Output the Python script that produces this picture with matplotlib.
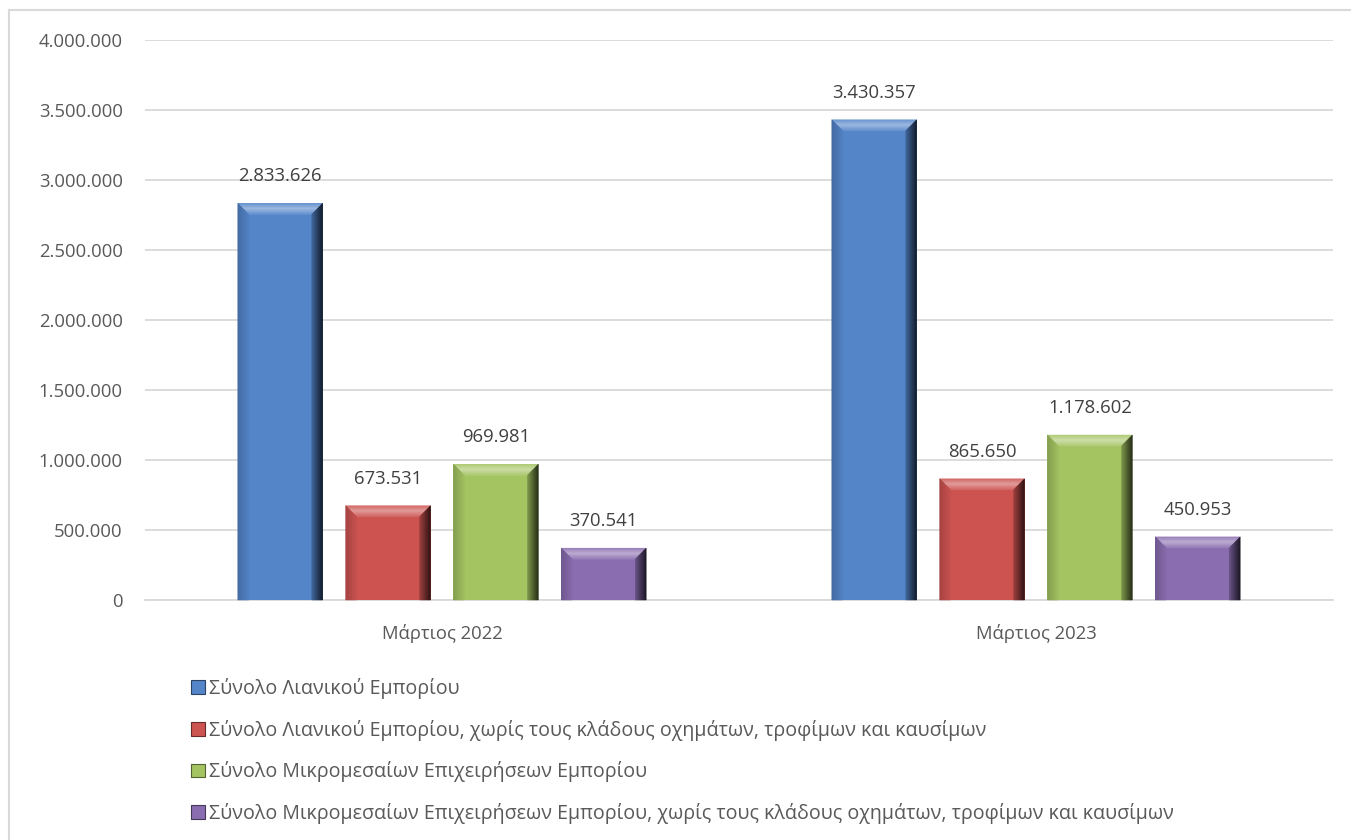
import matplotlib.pyplot as plt
import matplotlib.patches as mpatches
import matplotlib.colors as mcolors
from matplotlib.lines import Line2D
from matplotlib.transforms import IdentityTransform
import numpy as np

plt.rcParams['font.family'] = ['Open Sans', 'DejaVu Sans']

categories = ["Μάρτιος 2022", "Μάρτιος 2023"]
series_names = [
    "Σύνολο Λιανικού Εμπορίου",
    "Σύνολο Λιανικού Εμπορίου, χωρίς τους κλάδους οχημάτων, τροφίμων και καυσίμων",
    "Σύνολο Μικρομεσαίων Επιχειρήσεων Εμπορίου",
    "Σύνολο Μικρομεσαίων Επιχειρήσεων Εμπορίου, χωρίς τους κλάδους οχημάτων, τροφίμων και καυσίμων",
]
values_total = [2833626, 3430357]
values_total_excl = [673531, 865650]
values_sme = [969981, 1178602]
values_sme_excl = [370541, 450953]
series_values = [values_total, values_total_excl, values_sme, values_sme_excl]
colors = ["#5485c9", "#cc5350", "#a4c462", "#8a6db0"]

y_ticks = np.arange(0, 4000001, 500000)


def fmt(v):
    return f"{v:,}".replace(",", ".")


W, H = 1351, 840
fig = plt.figure(figsize=(W / 100, H / 100), dpi=100)
ax = fig.add_axes([145 / W, 1 - 600 / H, 1188 / W, 560 / H])

# chart frame (only left and top edges are visible in the crop)
fig.add_artist(Line2D([9 / W, 9 / W], [0, 1 - 10 / H], transform=fig.transFigure,
                      color="#d9d9d9", linewidth=1.5))
fig.add_artist(Line2D([9 / W, 1], [1 - 10 / H, 1 - 10 / H], transform=fig.transFigure,
                      color="#d9d9d9", linewidth=1.5))

x = np.arange(len(categories))
width = 0.143
step = 0.1815
offsets = (np.arange(len(series_names)) - 1.5) * step

bar_groups = []
for i, (name, vals) in enumerate(zip(series_names, series_values)):
    bars = ax.bar(x + offsets[i], vals, width, color=colors[i], label=name, zorder=3)
    bar_groups.append((bars, colors[i]))
    for b, v in zip(bars, vals):
        ax.annotate(fmt(v), (b.get_x() + b.get_width() / 2, v), xytext=(0, 13),
                    textcoords="offset points", ha="center", va="bottom",
                    fontsize=13.3, color="#404040")

ax.set_xlim(-0.5, 1.5)
ax.set_ylim(0, 4000000)
ax.set_yticks(y_ticks)
ax.set_yticklabels([fmt(int(t)) for t in y_ticks])
ax.set_xticks(x)
ax.set_xticklabels(categories)
ax.tick_params(axis="both", length=0, labelsize=13.3, labelcolor="#595959")
ax.tick_params(axis="x", pad=17)
ax.tick_params(axis="y", pad=16)
ax.grid(axis="y", color="#d9d9d9", linewidth=1.3, zorder=0)
for s in ["top", "right", "left"]:
    ax.spines[s].set_visible(False)
ax.spines["bottom"].set_color("#d9d9d9")
ax.spines["bottom"].set_linewidth(1.3)

# bevel effect drawn on top of each bar, in pixels
fig.canvas.draw()
bev = 11
for bars, col in bar_groups:
    base = np.array(mcolors.to_rgb(col))
    for b in bars:
        (x0, y0), (x1, y1) = ax.transData.transform(
            [(b.get_x(), 0), (b.get_x() + b.get_width(), b.get_height())])
        # top bevel: light gradient
        for k in range(bev):
            t = k / bev
            c = np.clip(base + (1 - base) * (0.12 + 0.33 * (1 - abs(t - 0.45) * 2)), 0, 1)
            poly = [(x0 + k, y1 - k), (x1 - k, y1 - k), (x1 - k - 1, y1 - k - 1), (x0 + k + 1, y1 - k - 1)]
            fig.add_artist(mpatches.Polygon(poly, closed=True, facecolor=c, edgecolor=c,
                                            linewidth=0.3, transform=IdentityTransform(), zorder=4))
        # right bevel: dark gradient towards the edge
        for k in range(bev):
            c = base * (0.75 - 0.6 * k / bev)
            xa = x1 - bev + k
            poly = [(xa, y1 - (bev - k)), (xa + 1, y1 - (bev - k - 1)), (xa + 1, y0), (xa, y0)]
            fig.add_artist(mpatches.Polygon(poly, closed=True, facecolor=c, edgecolor=c,
                                            linewidth=0.3, transform=IdentityTransform(), zorder=4))
        # left bevel: slightly darker
        for k in range(bev):
            c = base * (0.8 + 0.18 * k / bev)
            xa = x0 + k
            poly = [(xa, y1 - k), (xa + 1, y1 - k - 1), (xa + 1, y0), (xa, y0)]
            fig.add_artist(mpatches.Polygon(poly, closed=True, facecolor=c, edgecolor=c,
                                            linewidth=0.3, transform=IdentityTransform(), zorder=4))

handles = [mpatches.Patch(facecolor=c, edgecolor=np.array(mcolors.to_rgb(c)) * 0.5,
                          linewidth=0.8) for c in colors]
fig.legend(handles, series_names, loc="upper left", bbox_to_anchor=(181 / W, 1 - 668 / H),
           frameon=False, fontsize=14.1, labelcolor="#595959", handlelength=0.7,
           handleheight=0.7, handletextpad=0.25, labelspacing=1.06, borderpad=0)

fig.savefig("out.png", dpi=100)
